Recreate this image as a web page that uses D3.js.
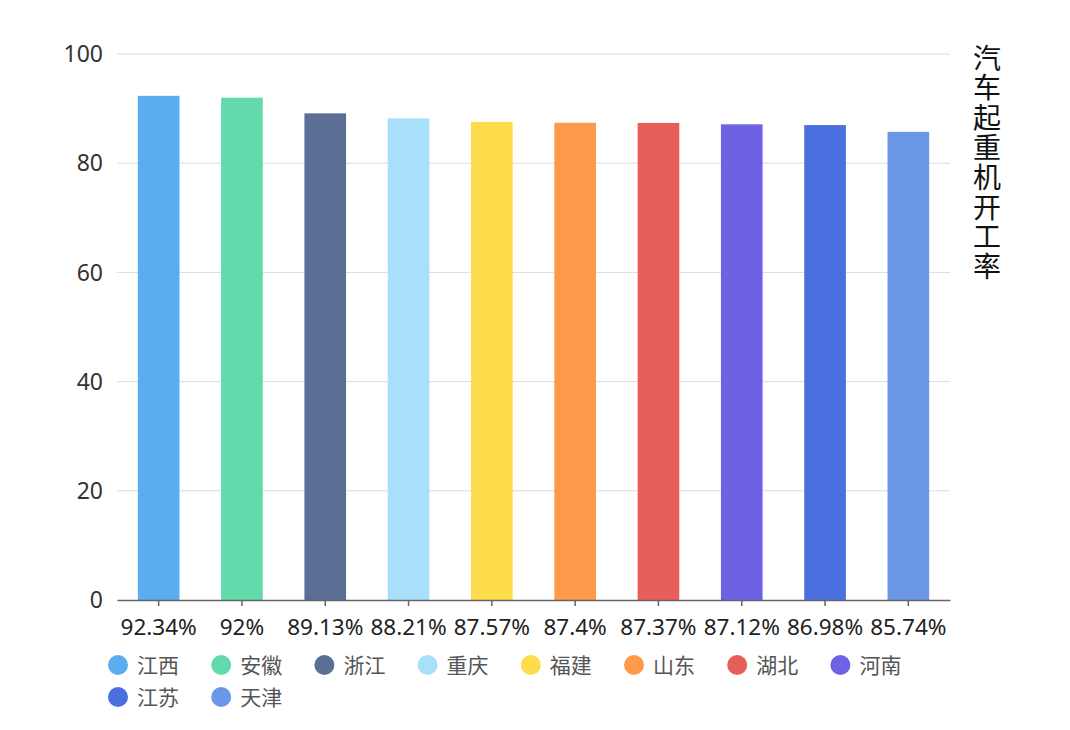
<!DOCTYPE html>
<html><head><meta charset="utf-8">
<script src="https://cdn.jsdelivr.net/npm/d3@7"></script>
<style>body{margin:0;background:#fff;font-family:"Noto Sans CJK SC","Noto Sans",sans-serif;}</style>
</head><body><svg id="c" width="1070" height="730"></svg>
<script>
const provinces = ["江西","安徽","浙江","重庆","福建","山东","湖北","河南","江苏","天津"];
const values = [92.34, 92, 89.13, 88.21, 87.57, 87.4, 87.37, 87.12, 86.98, 85.74];
const valueLabels = ["92.34%","92%","89.13%","88.21%","87.57%","87.4%","87.37%","87.12%","86.98%","85.74%"];
const colors = ["#5AADF0","#62DAAB","#5B6E96","#A8DFFA","#FFDC4C","#FF994B","#E65F5A","#6E62E4","#4A70E0","#6A98E6"];
const yTicks = [0,20,40,60,80,100];
const title = "汽车起重机开工率";

const svg = d3.select("#c");
const m = {l:117, r:950, t:54, b:600};
const x = d3.scaleBand().domain(d3.range(provinces.length)).range([m.l, m.r]).paddingInner(0.5).paddingOuter(0.25);
const y = d3.scaleLinear().domain([0,100]).range([m.b, m.t]);
const numFont = "'Noto Sans', 'Open Sans', sans-serif";

// grid
svg.append("g").selectAll("line").data(yTicks.filter(d=>d>0)).join("line")
  .attr("x1", m.l).attr("x2", m.r).attr("y1", d=>y(d)).attr("y2", d=>y(d))
  .attr("stroke","#dcdcdc").attr("stroke-width",1);

// y labels
svg.append("g").selectAll("text").data(yTicks).join("text")
  .attr("x", 103).attr("y", d=>y(d)).attr("dy","0.36em").attr("text-anchor","end")
  .attr("font-size",23).attr("fill","#333").attr("font-family",numFont).text(d=>d);

// bars
svg.append("g").selectAll("rect").data(values).join("rect")
  .attr("x",(d,i)=>x(i)).attr("width",x.bandwidth())
  .attr("y",d=>y(d)).attr("height",d=>y(0)-y(d))
  .attr("fill",(d,i)=>colors[i]);

// x axis
const xa = d3.scaleBand().domain(valueLabels).range([m.l, m.r]);
const gx = svg.append("g").attr("transform",`translate(0,${m.b})`)
  .call(d3.axisBottom(xa).tickSize(6).tickSizeOuter(0).tickPadding(13));
gx.select(".domain").attr("stroke","#666").attr("stroke-width",1.5);
gx.selectAll(".tick line").attr("stroke","#666").attr("stroke-width",1.5);
gx.selectAll(".tick text").attr("font-size",22.5).attr("fill","#222")
  .attr("font-family",numFont);

// legend
const leg = svg.append("g");
provinces.forEach((p,i)=>{
  const row = Math.floor(i/8), col = i%8;
  const cx = 118 + col*103.2, cy = 665 + row*32;
  leg.append("circle").attr("cx",cx).attr("cy",cy).attr("r",10).attr("fill",colors[i]);
  leg.append("text").attr("x",cx+19).attr("y",cy).attr("dy","0.36em")
    .attr("font-size",21).attr("fill","#555").text(p);
});

// vertical title
svg.append("text").attr("x",987).attr("y",44)
  .attr("writing-mode","vertical-rl").style("text-orientation","upright")
  .attr("font-size",28).attr("letter-spacing",1.8).attr("fill","#111").text(title);
</script></body></html>
